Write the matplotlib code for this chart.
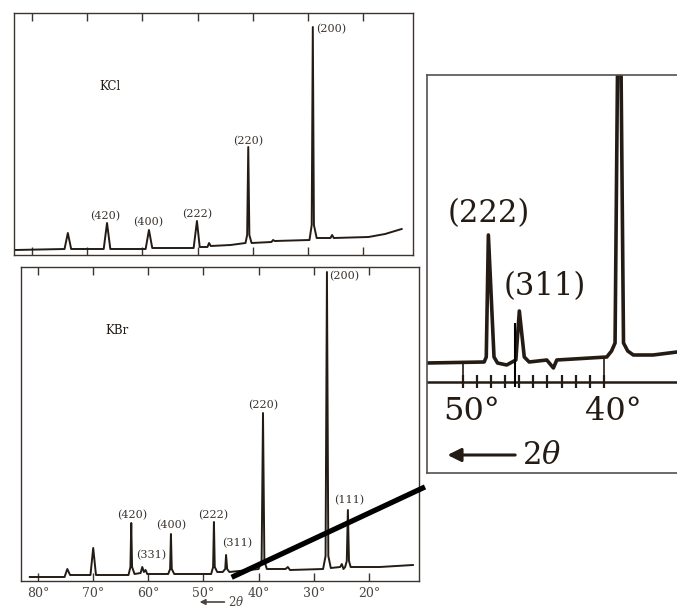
import matplotlib
matplotlib.use("Agg")
import matplotlib.pyplot as plt
from matplotlib.patches import ConnectionPatch

plt.rcParams['font.family'] = ['DejaVu Serif']
plt.rcParams['mathtext.fontset'] = 'dejavuserif'

# KCl pattern (2theta in degrees, intensity arbitrary)
kcl_2theta = [83.1, 74.1, 73.5, 72.9, 67.0, 66.4, 65.8, 59.4, 58.8, 58.2,
              50.7, 50.1, 49.6, 48.2, 47.9, 47.6, 44.0, 41.3, 41.0, 40.8,
              40.6, 40.2, 36.6, 36.3, 36.0, 29.7, 29.3, 29.1, 28.9, 28.4,
              25.9, 25.6, 25.3, 19.0, 16.0, 13.0]
kcl_int = [5, 6, 22, 6, 6, 32, 6, 6, 25, 7,
           7, 34, 8, 8, 12, 9, 10, 12, 20, 108,
           20, 12, 13, 15, 14, 15, 30, 228, 30, 17,
           17, 20, 17, 18, 21, 26]
kcl_labels = ["(420)", "(400)", "(222)", "(220)", "(200)"]
kcl_label_x = [66.8, 58.9, 50.1, 40.8, 25.8]
kcl_label_y = [39, 33, 41, 114, 226]

# KBr pattern
kbr_2theta = [81.5, 75.2, 74.7, 74.2, 70.5, 70.0, 69.5, 63.6, 63.25, 63.1,
              62.95, 62.5, 61.4, 61.1, 60.8, 60.5, 60.2, 56.4, 56.05, 55.9,
              55.75, 55.3, 48.6, 48.25, 48.1, 47.95, 47.5, 46.5, 46.05, 45.9,
              45.7, 45.3, 40.0, 39.45, 39.2, 38.95, 38.5, 35.1, 34.7, 34.3,
              28.3, 27.85, 27.6, 27.35, 26.9, 25.2, 24.9, 24.6, 24.3, 24.0,
              23.8, 23.6, 23.3, 18.0, 12.0]
kbr_int = [4, 4, 12, 6, 6, 33, 6, 6, 14, 58,
           14, 7, 8, 14, 9, 11, 7, 7, 12, 47,
           12, 7, 7, 14, 59, 14, 9, 9, 12, 26,
           12, 9, 12, 20, 168, 20, 12, 12, 14, 11,
           12, 25, 309, 25, 13, 14, 17, 12, 14, 20,
           71, 20, 14, 14, 16]
kbr_labels = ["(420)", "(331)", "(400)", "(222)", "(311)", "(220)", "(200)", "(111)"]
kbr_label_x = [63.0, 59.5, 55.8, 48.3, 43.9, 39.2, 24.5, 23.6]
kbr_label_y = [66, 26, 56, 66, 38, 176, 305, 81]

tick_angles = [80, 70, 60, 50, 40, 30, 20]
tick_labels = ["80°", "70°", "60°", "50°", "40°", "30°", "20°"]

# magnified part of KBr between 52.5 and 35 degrees
zoom_2theta = [52.56, 48.5, 48.35, 48.2, 47.8, 47.55, 46.9, 46.25, 46.0, 45.65,
               45.3, 44.05, 43.58, 43.34, 39.79, 39.45, 39.2, 38.9, 38.6, 38.3,
               37.9, 36.5, 34.8]
zoom_int = [110, 111, 116, 238, 116, 110, 108, 113, 162, 116,
            111, 113, 105, 113, 116, 122, 130, 600, 130, 122,
            118, 118, 121]
zoom_ticks = [50, 49, 48, 47, 46, 45, 44, 43, 42, 41, 40]
zoom_major = [50, 40]
zoom_major_top = [110, 116]
marker_angle = 46.3

ink = "#241c14"
frame = "#3a3531"

fig = plt.figure(figsize=(6.77, 6.10), dpi=100)

ax1 = fig.add_axes([14/677, 1-255/610, 399/677, 242/610])
ax2 = fig.add_axes([21/677, 1-581/610, 398/677, 314/610])
ax3 = fig.add_axes([427/677, 1-473/610, 250/677, 398/610])

ax1.plot(kcl_2theta, kcl_int, color=ink, lw=1.4, solid_joinstyle='round')
ax2.plot(kbr_2theta, kbr_int, color=ink, lw=1.4, solid_joinstyle='round')

for ax in (ax1, ax2):
    ax.set_xticks(tick_angles)
    ax.tick_params(axis='x', direction='in', top=True, bottom=True,
                   length=6, width=1.0, color=frame, pad=4,
                   labelsize=9, labelcolor="#4a4440")
    ax.set_yticks([])
    for s in ax.spines.values():
        s.set_linewidth(1.0)
        s.set_color(frame)

ax1.set_xlim(83.26, 10.94)
ax1.set_ylim(0, 242)
ax1.set_xticklabels([])
ax1.text(65.9, 168, "KCl", ha='center', va='center', fontsize=8.5, color=ink)
for lab, x, y in zip(kcl_labels, kcl_label_x, kcl_label_y):
    ax1.text(x, y, lab, ha='center', va='center', fontsize=8, color="#3a342f")

ax2.set_xlim(83.1, 10.9)
ax2.set_ylim(0, 314)
ax2.set_xticklabels(tick_labels)
ax2.text(65.6, 250, "KBr", ha='center', va='center', fontsize=8.5, color=ink)
for lab, x, y in zip(kbr_labels, kbr_label_x, kbr_label_y):
    ax2.text(x, y, lab, ha='center', va='center', fontsize=8, color="#3a342f")
ax2.annotate("", xy=(51.2, -21), xytext=(45.7, -21), xycoords='data',
             arrowprops=dict(arrowstyle='-|>', color="#4a4440", lw=1.2,
                             mutation_scale=8),
             annotation_clip=False)
ax2.text(45.5, -21, r"2$\theta$", ha='left', va='center', fontsize=8.5,
         color="#4a4440", clip_on=False)

# inset
ax3.plot(zoom_2theta, zoom_int, color=ink, lw=2.6, solid_joinstyle='round')
ax3.set_xlim(52.56, 34.8)
ax3.set_ylim(0, 398)
ax3.set_xticks([])
ax3.set_yticks([])
ax3.spines['right'].set_visible(False)
for s in ('left', 'top', 'bottom'):
    ax3.spines[s].set_linewidth(1.2)
    ax3.spines[s].set_color("#555050")
ax3.axhline(91.5, color=ink, lw=1.8)
ax3.vlines(zoom_ticks, 85, 98, color=ink, lw=1.6)
ax3.vlines(zoom_major, 85, zoom_major_top, color=ink, lw=1.2)
ax3.vlines(marker_angle, 86, 150, color="black", lw=1.5)
ax3.text(48.19, 259.5, "(222)", ha='center', va='center', fontsize=22, color=ink)
ax3.text(44.17, 186, "(311)", ha='center', va='center', fontsize=22, color=ink)
ax3.text(49.36, 61, "50°", ha='center', va='center', fontsize=23, color=ink)
ax3.text(39.34, 61, "40°", ha='center', va='center', fontsize=23, color=ink)
ax3.annotate("", xy=(51.3, 18), xytext=(46.1, 18),
             arrowprops=dict(arrowstyle='-|>', color=ink, lw=2.2,
                             mutation_scale=20))
ax3.text(45.8, 18, r"2$\theta$", ha='left', va='center', fontsize=22, color=ink)

# connector from the KBr pattern to the magnified view
con = ConnectionPatch(xyA=(44.89, 3.7), coordsA=ax2.transData,
                      xyB=(-0.008, -0.035), coordsB=ax3.transAxes,
                      color="black", lw=3.8, capstyle='butt')
fig.add_artist(con)

fig.savefig("out.png", dpi=100)
